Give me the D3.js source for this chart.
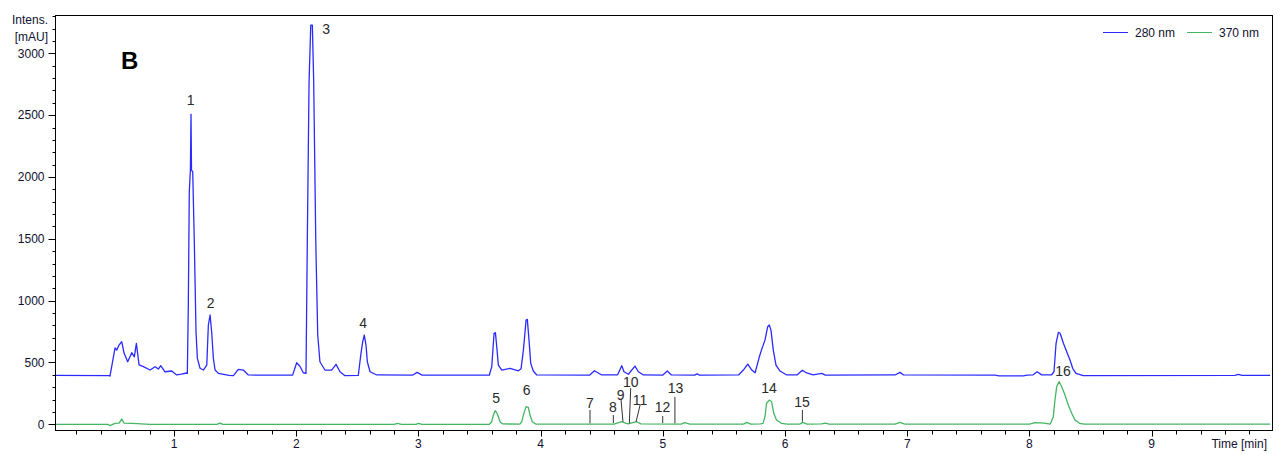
<!DOCTYPE html>
<html>
<head>
<meta charset="utf-8">
<script src="https://cdn.jsdelivr.net/npm/d3@7"></script>
<style>
  body { margin: 0; background: #fff; }
  svg { display: block; font-family: "Liberation Sans", Arial, sans-serif; }
</style>
</head>
<body>
<svg id="main" width="1282" height="454"></svg>
<script>
// time [min], intensity [mAU]
let trace280 = [
  [0.026,395],[0.47,393],[0.476,390],[0.517,617],[0.531,600],[0.550,641],[0.572,668],[0.591,576],
  [0.621,506],[0.654,579],[0.675,546],[0.692,655],[0.714,480],[0.749,466],[0.804,439],[0.845,466],
  [0.872,447],[0.891,474],[0.926,425],[0.981,431],[1.022,399],[1.06,405],[1.104,415],[1.109,412],
  [1.117,964],[1.125,1880],[1.134,2056],[1.139,2508],[1.143,2056],[1.153,2042],[1.166,1476],
  [1.180,749],[1.191,533],[1.213,453],[1.240,439],[1.268,479],[1.281,803],[1.295,884],[1.308,749],
  [1.322,533],[1.336,439],[1.363,412],[1.45,395],[1.486,393],[1.526,444],[1.567,439],[1.608,399],
  [1.7,397],[1.97,398],[2.004,498],[2.03,470],[2.058,417],[2.080,412],[2.091,1504],[2.105,2770],
  [2.119,3228],[2.132,3228],[2.143,2770],[2.160,1476],[2.176,722],[2.194,506],[2.235,439],
  [2.290,439],[2.326,485],[2.358,425],[2.399,393],[2.508,395],[2.528,560],[2.544,668],[2.557,722],
  [2.571,641],[2.582,506],[2.604,425],[2.659,399],[2.95,397],[2.99,420],[3.03,398],[3.58,397],
  [3.600,466],[3.619,736],[3.630,741],[3.641,627],[3.654,479],[3.682,439],[3.750,453],[3.818,433],
  [3.840,450],[3.859,600],[3.881,843],[3.891,849],[3.905,681],[3.919,493],[3.940,431],[3.968,399],
  [4.40,397],[4.440,433],[4.50,399],[4.63,400],[4.664,474],[4.682,425],[4.718,405],[4.772,471],
  [4.800,425],[4.841,399],[5.00,398],[5.037,431],[5.07,399],[5.26,398],[5.28,408],[5.30,398],
  [5.62,399],[5.659,439],[5.695,487],[5.728,439],[5.755,417],[5.790,546],[5.809,606],[5.836,681],
  [5.858,789],[5.871,803],[5.885,762],[5.904,600],[5.926,479],[5.959,431],[6.014,399],[6.10,400],
  [6.141,437],[6.178,415],[6.23,399],[6.30,412],[6.33,398],[6.90,399],[6.941,420],[6.97,399],
  [7.72,398],[7.75,392],[7.95,391],[7.98,398],[8.03,400],[8.063,425],[8.10,400],[8.18,399],
  [8.201,425],[8.218,655],[8.237,744],[8.251,736],[8.278,655],[8.305,587],[8.332,520],[8.354,453],
  [8.381,412],[8.441,393],[9.68,395],[9.71,404],[9.74,395],[9.97,395]
];

let trace370 = [
  [0.026,0],[0.46,0],[0.476,-11],[0.517,8],[0.55,10],[0.572,43],[0.591,10],[0.65,8],[0.70,6],
  [0.80,0],[1.35,0],[1.376,10],[1.40,0],[2.8,0],[2.83,8],[2.86,0],[2.98,0],[3.0,8],[3.03,0],
  [3.58,0],[3.600,21],[3.613,75],[3.628,110],[3.640,95],[3.649,75],[3.668,21],[3.69,3],[3.83,2],
  [3.846,21],[3.859,75],[3.881,143],[3.899,137],[3.913,75],[3.932,21],[3.96,2],[4.60,2],
  [4.664,21],[4.70,8],[4.718,3],[4.76,15],[4.787,21],[4.82,3],[5.15,2],[5.18,13],[5.22,2],
  [5.66,2],[5.687,16],[5.72,2],[5.80,3],[5.82,8],[5.836,61],[5.849,170],[5.871,196],[5.890,183],
  [5.908,89],[5.930,35],[5.97,8],[6.02,2],[6.12,2],[6.145,16],[6.18,2],[6.3,3],[6.33,10],[6.36,2],
  [6.90,2],[6.94,16],[6.98,2],[8.0,2],[8.046,13],[8.12,10],[8.17,2],[8.195,60],[8.209,196],
  [8.223,304],[8.242,345],[8.264,304],[8.291,237],[8.318,156],[8.346,89],[8.373,35],[8.41,8],
  [8.45,2],[9.97,2]
];

// peak number, time, intensity where the number sits
let peakLabels = [
  ['1',1.137,2622],['2',1.300,981],['3',2.244,3196],['4',2.547,819],['5',3.635,215],
  ['6',3.886,277],['7',4.404,172],['8',4.592,140],['9',4.654,240],['10',4.737,345],
  ['11',4.814,196],['12',4.997,140],['13',5.104,293],['14',5.869,291],['15',6.139,180],
  ['16',8.275,431]
];

// marker stems for the small peaks: t1, v1, t2, v2
let peakStems = [
  [4.404,116,4.404,8],[4.595,75,4.595,10],[4.658,197,4.674,21],[4.737,293,4.726,8],
  [4.814,156,4.781,21],[4.999,67,4.999,10],[5.099,223,5.099,8],[6.142,116,6.142,21]
];

let series = ['280 nm', '370 nm'];
let yMajor = [0, 500, 1000, 1500, 2000, 2500, 3000];
let xMajor = [1, 2, 3, 4, 5, 6, 7, 8, 9];

let colors = { '280 nm': '#2b2bff', '370 nm': '#45b562' };
let plotL = 55, plotR = 1272, plotT = 15, plotB = 430;

let svg = d3.select('#main');

let x = d3.scaleLinear().domain([0.026, 9.985]).range([plotL, plotR]);
let y = d3.scaleLinear().domain([-46, 3310]).range([plotB, plotT]);

// traces
let line = d3.line()
  .x(d => x(d[0]))
  .y(d => y(d[1]));

svg.append('g')
  .selectAll('path')
  .data([[trace370, '370 nm'], [trace280, '280 nm']])
  .join('path')
  .attr('d', d => line(d[0]))
  .attr('fill', 'none')
  .attr('stroke', d => colors[d[1]])
  .attr('stroke-width', 1.3)
  .attr('stroke-linejoin', 'round');

// frame
svg.append('rect')
  .attr('x', plotL + 0.5).attr('y', plotT + 0.5)
  .attr('width', plotR - plotL).attr('height', plotB - plotT)
  .attr('fill', 'none')
  .attr('stroke', '#000')
  .attr('stroke-width', 1);

// y axis: major ticks with labels, minor every 100
let yAxis = svg.append('g').attr('transform', `translate(${plotL + 0.5},0)`);
yAxis.selectAll('.minor').data(d3.range(0, 3301, 100))
  .join('line')
  .attr('class', 'minor')
  .attr('x1', -3).attr('x2', 0)
  .attr('y1', d => Math.round(y(d)) + 0.5).attr('y2', d => Math.round(y(d)) + 0.5)
  .attr('stroke', '#000');
yAxis.selectAll('.major').data(yMajor)
  .join('line')
  .attr('class', 'major')
  .attr('x1', -7).attr('x2', 0)
  .attr('y1', d => Math.round(y(d)) + 0.5).attr('y2', d => Math.round(y(d)) + 0.5)
  .attr('stroke', '#000');
yAxis.selectAll('text').data(yMajor)
  .join('text')
  .attr('x', -11)
  .attr('y', d => y(d))
  .attr('dy', '0.35em')
  .attr('text-anchor', 'end')
  .attr('font-size', 12)
  .attr('fill', '#101030')
  .text(d => d);

svg.append('text').attr('x', 48).attr('y', 24).attr('text-anchor', 'end')
  .attr('font-size', 12).attr('fill', '#101030').text('Intens.');
svg.append('text').attr('x', 48).attr('y', 41).attr('text-anchor', 'end')
  .attr('font-size', 12).attr('fill', '#101030').text('[mAU]');

// x axis: major ticks 1..9, minor every 0.2
let xAxis = svg.append('g').attr('transform', `translate(0,${plotB + 0.5})`);
xAxis.selectAll('.minor').data(d3.range(1, 50).map(i => i * 0.2))
  .join('line')
  .attr('class', 'minor')
  .attr('y1', 0).attr('y2', 4)
  .attr('x1', d => Math.round(x(d)) + 0.5).attr('x2', d => Math.round(x(d)) + 0.5)
  .attr('stroke', '#000');
xAxis.selectAll('.major').data(xMajor)
  .join('line')
  .attr('class', 'major')
  .attr('y1', 0).attr('y2', 6)
  .attr('x1', d => Math.round(x(d)) + 0.5).attr('x2', d => Math.round(x(d)) + 0.5)
  .attr('stroke', '#000');
xAxis.selectAll('text').data(xMajor)
  .join('text')
  .attr('x', d => x(d))
  .attr('y', 17)
  .attr('text-anchor', 'middle')
  .attr('font-size', 12)
  .attr('fill', '#101030')
  .text(d => d);

svg.append('text').attr('x', 1267).attr('y', 448).attr('text-anchor', 'end')
  .attr('font-size', 12).attr('fill', '#101030').text('Time [min]');

// panel letter
svg.append('text').attr('x', 121).attr('y', 69)
  .attr('font-size', 24).attr('font-weight', 'bold').attr('fill', '#000').text('B');

// peak stems and numbers
svg.append('g').selectAll('line').data(peakStems)
  .join('line')
  .attr('x1', d => x(d[0])).attr('y1', d => y(d[1]))
  .attr('x2', d => x(d[2])).attr('y2', d => y(d[3]))
  .attr('stroke', '#333')
  .attr('stroke-width', 1);

svg.append('g').selectAll('text').data(peakLabels)
  .join('text')
  .attr('x', d => x(d[1]))
  .attr('y', d => y(d[2]))
  .attr('dy', '0.36em')
  .attr('text-anchor', 'middle')
  .attr('font-size', 14)
  .attr('fill', '#2a2a2a')
  .text(d => d[0]);

// legend
let legend = svg.append('g').selectAll('g').data(series)
  .join('g')
  .attr('transform', (d, i) => `translate(${1103 + i * 84},32.5)`);
legend.append('line')
  .attr('x1', 0).attr('x2', 25)
  .attr('stroke', d => colors[d]);
legend.append('text')
  .attr('x', 32).attr('dy', '0.35em')
  .attr('font-size', 12)
  .attr('fill', '#101030')
  .text(d => d);
</script>
</body>
</html>
